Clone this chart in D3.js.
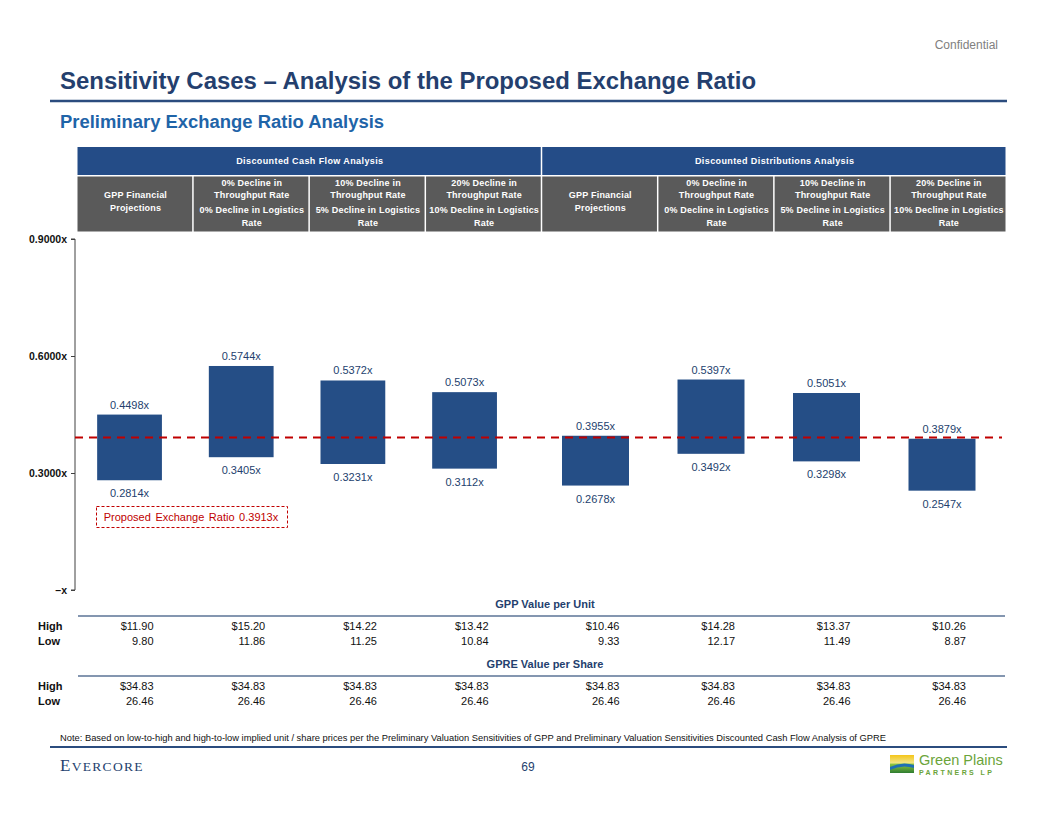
<!DOCTYPE html>
<html><head><meta charset="utf-8">
<script src="https://cdn.jsdelivr.net/npm/d3@7"></script>
<style>
body{margin:0;background:#fff;}
svg{display:block;font-family:"Liberation Sans",Arial,sans-serif;}
</style></head>
<body><svg id="c" width="1056" height="816"></svg>
<script>
// ---------- data ----------
const groups = ["Discounted Cash Flow Analysis", "Discounted Distributions Analysis"];
const caseKeys = ["c0", "c1", "c2", "c3"];
const caseHeaders = [
  ["GPP Financial", "Projections"],
  ["0% Decline in", "Throughput Rate", "0% Decline in Logistics", "Rate"],
  ["10% Decline in", "Throughput Rate", "5% Decline in Logistics", "Rate"],
  ["20% Decline in", "Throughput Rate", "10% Decline in Logistics", "Rate"]
];
const highs = [0.4498, 0.5744, 0.5372, 0.5073, 0.3955, 0.5397, 0.5051, 0.3879];
const lows  = [0.2814, 0.3405, 0.3231, 0.3112, 0.2678, 0.3492, 0.3298, 0.2547];
const proposedRatio = 0.3913;
const yTicks = [0, 0.3, 0.6, 0.9];
const gppHigh = ["$11.90", "$15.20", "$14.22", "$13.42", "$10.46", "$14.28", "$13.37", "$10.26"];
const gppLow  = ["9.80", "11.86", "11.25", "10.84", "9.33", "12.17", "11.49", "8.87"];
const gpreHigh = ["$34.83", "$34.83", "$34.83", "$34.83", "$34.83", "$34.83", "$34.83", "$34.83"];
const gpreLow  = ["26.46", "26.46", "26.46", "26.46", "26.46", "26.46", "26.46", "26.46"];

const navy = "#243F6E", barBlue = "#254E86", headBlue = "#244C87", grey = "#5A5A5A", red = "#C00000";
const svg = d3.select("#c");

// ---------- page chrome ----------
svg.append("text").attr("x", 998).attr("y", 49).attr("text-anchor", "end")
  .attr("font-size", 12).attr("fill", "#808080").text("Confidential");
svg.append("text").attr("x", 60).attr("y", 89).attr("font-size", 23).attr("font-weight", "bold")
  .attr("fill", navy).attr("textLength", 696).attr("lengthAdjust", "spacingAndGlyphs")
  .text("Sensitivity Cases – Analysis of the Proposed Exchange Ratio");
svg.append("line").attr("x1", 50).attr("x2", 1007).attr("y1", 101).attr("y2", 101)
  .attr("stroke", "#2B4C7E").attr("stroke-width", 2.5);
svg.append("text").attr("x", 60).attr("y", 128).attr("font-size", 17.5).attr("font-weight", "bold")
  .attr("fill", "#1F64A8").attr("textLength", 324).attr("lengthAdjust", "spacingAndGlyphs")
  .text("Preliminary Exchange Ratio Analysis");

// ---------- header table ----------
const colIds = d3.range(8);
const hx = d3.scaleBand().domain(colIds).range([77.5, 1007]).paddingInner(0);
const gx = d3.scaleBand().domain(groups).range([77.5, 1007]);
const head = svg.append("g");
head.selectAll("rect.g").data(groups).join("rect")
  .attr("x", d => gx(d)).attr("y", 147).attr("width", d => gx.bandwidth() - 1.5).attr("height", 28)
  .attr("fill", headBlue);
head.selectAll("text.g").data(groups).join("text")
  .attr("x", d => gx(d) + gx.bandwidth() / 2).attr("y", 164).attr("text-anchor", "middle")
  .attr("font-size", 9).attr("font-weight", "bold").attr("fill", "#fff").attr("letter-spacing", 0.4)
  .text(d => d);
head.selectAll("rect.c").data(colIds).join("rect")
  .attr("x", d => hx(d)).attr("y", 176.5).attr("width", hx.bandwidth() - 1.5).attr("height", 55)
  .attr("fill", grey);
colIds.forEach(i => {
  const lines = caseHeaders[i % 4];
  const cx = hx(i) + hx.bandwidth() / 2;
  const ys = lines.length === 2 ? [198, 211] : [186, 198, 213, 226];
  lines.forEach((l, k) => {
    head.append("text").attr("x", cx).attr("y", ys[k]).attr("text-anchor", "middle")
      .attr("font-size", 9).attr("font-weight", "bold").attr("fill", "#fff").attr("letter-spacing", 0.2)
      .text(l);
  });
});

// ---------- chart ----------
const y = d3.scaleLinear().domain([0, 0.9]).range([590, 239]);
const outer = d3.scaleOrdinal().domain(groups).range([[73.7, 520.4], [537.75, 999.75]]);
const inner = {};
groups.forEach(g => { inner[g] = d3.scaleBand().domain(caseKeys).range(outer(g)).paddingInner(0.42).paddingOuter(0.21); });
const bars = highs.map((h, i) => ({ i, group: groups[Math.floor(i / 4)], key: caseKeys[i % 4], high: h, low: lows[i] }));
const bx = d => inner[d.group](d.key);
const bw = d => inner[d.group].bandwidth();
const bc = d => bx(d) + bw(d) / 2;

// y axis
const yAxis = d3.axisLeft(y).tickValues(yTicks).tickSize(4).tickPadding(4)
  .tickFormat(d => d === 0 ? "–x" : d.toFixed(4) + "x");
const ga = svg.append("g").attr("transform", "translate(75,0)").call(yAxis);
ga.select(".domain").attr("stroke", "#404040").attr("d", "M-4,239H0V590H-4");
ga.selectAll(".tick line").attr("stroke", "#404040");
ga.selectAll(".tick text").attr("font-size", 10.5).attr("font-weight", "bold").attr("fill", "#111")
  .attr("font-family", "Liberation Sans, Arial, sans-serif");

// bars
svg.append("g").selectAll("rect").data(bars).join("rect")
  .attr("x", bx).attr("width", bw).attr("y", d => y(d.high)).attr("height", d => y(d.low) - y(d.high))
  .attr("fill", barBlue);

// proposed line
svg.append("line").attr("x1", 75).attr("x2", 1002).attr("y1", y(proposedRatio)).attr("y2", y(proposedRatio))
  .attr("stroke", red).attr("stroke-width", 2).attr("stroke-dasharray", "8,6");

// labels
svg.append("g").selectAll("text").data(bars).join("text")
  .attr("x", bc).attr("y", d => y(d.high) - 6).attr("text-anchor", "middle")
  .attr("font-size", 11).attr("fill", navy).text(d => d.high.toFixed(4) + "x");
svg.append("g").selectAll("text").data(bars).join("text")
  .attr("x", bc).attr("y", d => y(d.low) + 17).attr("text-anchor", "middle")
  .attr("font-size", 11).attr("fill", navy).text(d => d.low.toFixed(4) + "x");

// proposed box
svg.append("rect").attr("x", 96.5).attr("y", 506.5).attr("width", 191).attr("height", 21)
  .attr("fill", "none").attr("stroke", red).attr("stroke-width", 1).attr("stroke-dasharray", "3,2");
svg.append("text").attr("x", 191).attr("y", 521).attr("text-anchor", "middle").attr("font-size", 11)
  .attr("fill", red).attr("word-spacing", 1.5).text("Proposed Exchange Ratio " + proposedRatio.toFixed(4) + "x");

// ---------- value tables ----------
function valueTable(title, yTitle, hi, lo) {
  const g = svg.append("g");
  g.append("text").attr("x", 545).attr("y", yTitle).attr("text-anchor", "middle")
    .attr("font-size", 11).attr("font-weight", "bold").attr("fill", navy).text(title);
  g.append("line").attr("x1", 78).attr("x2", 1005).attr("y1", yTitle + 8).attr("y2", yTitle + 8)
    .attr("stroke", "#8496B0").attr("stroke-width", 2);
  g.append("text").attr("x", 38).attr("y", yTitle + 22).attr("font-size", 11).attr("font-weight", "bold").attr("fill", "#111").text("High");
  g.append("text").attr("x", 38).attr("y", yTitle + 37).attr("font-size", 11).attr("font-weight", "bold").attr("fill", "#111").text("Low");
  g.selectAll("text.h").data(bars).join("text").attr("x", d => bc(d) + 24).attr("y", yTitle + 22)
    .attr("text-anchor", "end").attr("font-size", 11).attr("fill", "#111").text(d => hi[d.i]);
  g.selectAll("text.l").data(bars).join("text").attr("x", d => bc(d) + 24).attr("y", yTitle + 37)
    .attr("text-anchor", "end").attr("font-size", 11).attr("fill", "#111").text(d => lo[d.i]);
}
valueTable("GPP Value per Unit", 608, gppHigh, gppLow);
valueTable("GPRE Value per Share", 668, gpreHigh, gpreLow);

// ---------- footer ----------
svg.append("text").attr("x", 60).attr("y", 741).attr("font-size", 8.6).attr("fill", "#111")
  .attr("textLength", 826).attr("lengthAdjust", "spacingAndGlyphs")
  .text("Note: Based on low-to-high and high-to-low implied unit / share prices per the Preliminary Valuation Sensitivities of GPP and Preliminary Valuation Sensitivities Discounted Cash Flow Analysis of GPRE");
svg.append("line").attr("x1", 50).attr("x2", 1007).attr("y1", 747).attr("y2", 747)
  .attr("stroke", "#2B4C7E").attr("stroke-width", 2);
const ev = svg.append("text").attr("x", 60).attr("y", 771).attr("font-family", "Liberation Serif, serif")
  .attr("fill", navy).attr("letter-spacing", 1.3);
ev.append("tspan").attr("font-size", 17).text("E");
ev.append("tspan").attr("font-size", 13.5).text("VERCORE");
svg.append("text").attr("x", 528).attr("y", 771).attr("text-anchor", "middle").attr("font-size", 12)
  .attr("fill", navy).text("69");
// logo
const lg = svg.append("g").attr("transform", "translate(890,753)");
const grad = svg.append("defs").append("linearGradient").attr("id", "lgd").attr("x1", 0).attr("y1", 0).attr("x2", 0).attr("y2", 1);
grad.append("stop").attr("offset", "0").attr("stop-color", "#F5C518");
grad.append("stop").attr("offset", "0.45").attr("stop-color", "#F0E68C");
grad.append("stop").attr("offset", "0.5").attr("stop-color", "#8DC63F");
grad.append("stop").attr("offset", "1").attr("stop-color", "#2E7D32");
lg.append("rect").attr("x", 0).attr("y", 2).attr("width", 24).attr("height", 18).attr("fill", "url(#lgd)");
lg.append("path").attr("d", "M0,14 Q12,8 24,12 L24,15 Q12,11 0,17Z").attr("fill", "#1E6FB5");
lg.append("text").attr("x", 29).attr("y", 12).attr("font-size", 14.5).attr("fill", "#6BA43A").text("Green Plains");
lg.append("text").attr("x", 29).attr("y", 22).attr("font-size", 7).attr("font-weight", "bold").attr("fill", "#6BA43A")
  .attr("letter-spacing", 2.4).text("PARTNERS LP");
</script></body></html>
